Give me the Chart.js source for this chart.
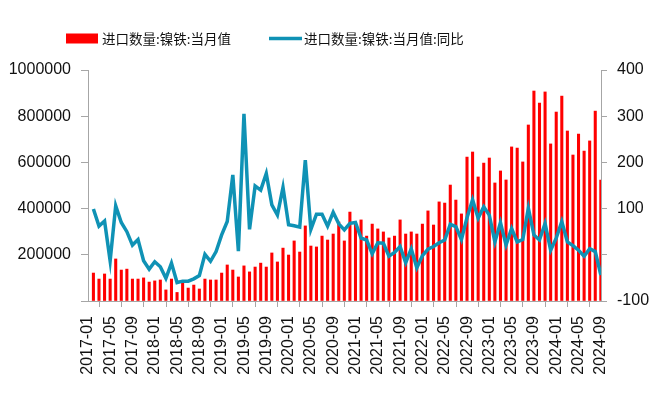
<!DOCTYPE html>
<html>
<head>
<meta charset="utf-8">
<script src="https://cdn.jsdelivr.net/npm/chart.js@4"></script>
<style>
html,body{margin:0;padding:0;background:#ffffff;}
#wrap{position:relative;width:657px;height:396px;}
</style>
</head>
<body>
<div id="wrap"><canvas id="c" width="657" height="396"></canvas></div>
<script>
// ---- categories (monthly, 2017-01 .. 2024-08) ----
const months = [
  '2017-01','2017-02','2017-03','2017-04','2017-05','2017-06','2017-07','2017-08','2017-09','2017-10','2017-11','2017-12',
  '2018-01','2018-02','2018-03','2018-04','2018-05','2018-06','2018-07','2018-08','2018-09','2018-10','2018-11','2018-12',
  '2019-01','2019-02','2019-03','2019-04','2019-05','2019-06','2019-07','2019-08','2019-09','2019-10','2019-11','2019-12',
  '2020-01','2020-02','2020-03','2020-04','2020-05','2020-06','2020-07','2020-08','2020-09','2020-10','2020-11','2020-12',
  '2021-01','2021-02','2021-03','2021-04','2021-05','2021-06','2021-07','2021-08','2021-09','2021-10','2021-11','2021-12',
  '2022-01','2022-02','2022-03','2022-04','2022-05','2022-06','2022-07','2022-08','2022-09','2022-10','2022-11','2022-12',
  '2023-01','2023-02','2023-03','2023-04','2023-05','2023-06','2023-07','2023-08','2023-09','2023-10','2023-11','2023-12',
  '2024-01','2024-02','2024-03','2024-04','2024-05','2024-06','2024-07','2024-08'
];

// ---- x-axis tick labels ----
const tickLabels = [
  '2017-01','2017-05','2017-09','2018-01','2018-05','2018-09','2019-01','2019-05',
  '2019-09','2020-01','2020-05','2020-09','2021-01','2021-05','2021-09','2022-01',
  '2022-05','2022-09','2023-01','2023-05','2023-09','2024-01','2024-05','2024-09'
];

// ---- series: import quantity of nickel pig iron (monthly value) ----
const importQty = [
  121000, 95000,117000, 95000,182000,134000,138000, 95000, 95000,100000, 82000, 87000,
   91000, 48000, 95000, 37000, 78000, 56000, 69000, 52000, 95000, 91000, 91000,121000,
  156000,134000,104000,152000,126000,147000,164000,147000,208000,169000,229000,199000,
  260000,212000,325000,238000,234000,281000,264000,290000,342000,260000,385000,339000,
  351000,281000,333000,312000,299000,273000,281000,351000,290000,299000,290000,333000,
  390000,329000,429000,424000,502000,437000,377000,623000,645000,537000,597000,619000,
  511000,563000,524000,667000,662000,602000,762000,909000,857000,905000,680000,818000,
  887000,736000,632000,723000,649000,693000,822000,524000
];

// ---- series: year-on-year change (%) ----
const importYoY = [
   99,  62,  73, -13, 106,  70,  50,  21,  33, -13, -31, -15,
  -26, -51, -18, -60, -57, -57, -52, -45,   1, -14,   7,  43,
   72, 173,   8, 305,  55, 149, 140, 176, 108,  86, 146,  65,
   63,  60, 205,  55,  88,  88,  62,  92,  67,  54,  68,  70,
   36,  32,   2,  26,  25,  -3,   5,  18, -17,  13, -28,  -2,
   12,  18,  26,  32,  66,  61,  33,  80, 119,  79, 104,  86,
   28,  70,  21,  57,  28,  33, 101,  43,  32,  68,  10,  36,
   72,  28,  20,  10,  -3,  13,   7, -44
];

const seriesNames = ['进口数量:镍铁:当月值', '进口数量:镍铁:当月值:同比'];

// month index since 2017-01 (date axis), values plotted at month end
const monthIndex = s => (parseInt(s.slice(0, 4), 10) - 2017) * 12 + parseInt(s.slice(5, 7), 10) - 1;
const monthEnd = s => monthIndex(s) + 0.97;

const AXIS_GRAY = '#a6a6a6';
const TEXT = '#111111';

const topLegend = {
  id: 'topLegend',
  afterDraw(chart) {
    const ctx = chart.ctx;
    const ds = chart.data.datasets;
    const y = 38.5;
    let x = 66;
    ctx.save();
    ctx.font = '13.5px "Noto Sans CJK SC"';
    ctx.textBaseline = 'middle';
    ctx.textAlign = 'left';
    ctx.fillStyle = ds[0].backgroundColor;
    ctx.fillRect(x, y - 5, 32, 10);
    x += 36;
    ctx.fillStyle = TEXT;
    ctx.fillText(ds[0].label, x, y);
    x += ctx.measureText(ds[0].label).width + 38;
    ctx.strokeStyle = ds[1].borderColor;
    ctx.lineWidth = 3.5;
    ctx.beginPath();
    ctx.moveTo(x, y);
    ctx.lineTo(x + 33, y);
    ctx.stroke();
    x += 35;
    ctx.fillStyle = TEXT;
    ctx.fillText(ds[1].label, x, y);
    ctx.restore();
  }
};

new Chart(document.getElementById('c'), {
  type: 'bar',
  data: {
    datasets: [
      {
        type: 'bar',
        label: seriesNames[0],
        data: months.map((m, i) => ({ x: monthEnd(m), y: importQty[i] })),
        backgroundColor: '#ff0000',
        borderWidth: 0,
        barThickness: 2.4,
        yAxisID: 'y',
        order: 2
      },
      {
        type: 'line',
        label: seriesNames[1],
        data: months.map((m, i) => ({ x: monthEnd(m), y: importYoY[i] })),
        borderColor: '#0f92b5',
        backgroundColor: '#0f92b5',
        borderWidth: 3.5,
        pointRadius: 0,
        tension: 0,
        fill: false,
        yAxisID: 'y1',
        order: 1
      }
    ]
  },
  options: {
    responsive: false,
    animation: false,
    devicePixelRatio: 1,
    layout: { padding: { top: 70, left: 0, right: 0, bottom: 0 } },
    plugins: {
      legend: { display: false },
      tooltip: { enabled: false }
    },
    scales: {
      x: {
        type: 'linear',
        min: 0,
        max: 92,
        offset: false,
        afterBuildTicks: s => { s.ticks = tickLabels.map(l => ({ value: monthIndex(l) })); },
        afterFit: s => { s.height = 95; },
        ticks: {
          autoSkip: false,
          maxRotation: 90,
          minRotation: 90,
          padding: 9,
          color: TEXT,
          font: { family: '"Liberation Sans"', size: 16 },
          callback: v => { const l = tickLabels.find(t => monthIndex(t) === v); return l || ''; }
        },
        grid: { drawOnChartArea: false, drawTicks: true, tickLength: 6, color: AXIS_GRAY },
        border: { display: true, color: AXIS_GRAY }
      },
      y: {
        position: 'left',
        min: 0,
        max: 1000000,
        afterFit: s => { s.width = 88; },
        ticks: {
          stepSize: 200000,
          padding: 10,
          color: TEXT,
          font: { family: '"Liberation Sans"', size: 16 },
          callback: v => (v === 0 ? '' : String(v))
        },
        grid: { drawOnChartArea: false, drawTicks: true, tickLength: 7, color: AXIS_GRAY },
        border: { display: true, color: AXIS_GRAY }
      },
      y1: {
        position: 'right',
        min: -100,
        max: 400,
        afterFit: s => { s.width = 56; },
        ticks: {
          stepSize: 100,
          padding: 10,
          color: TEXT,
          font: { family: '"Liberation Sans"', size: 16 },
          callback: v => (v === 0 ? '' : String(v))
        },
        grid: { drawOnChartArea: false, drawTicks: true, tickLength: 6, color: AXIS_GRAY },
        border: { display: true, color: AXIS_GRAY }
      }
    }
  },
  plugins: [topLegend]
});
</script>
</body>
</html>
